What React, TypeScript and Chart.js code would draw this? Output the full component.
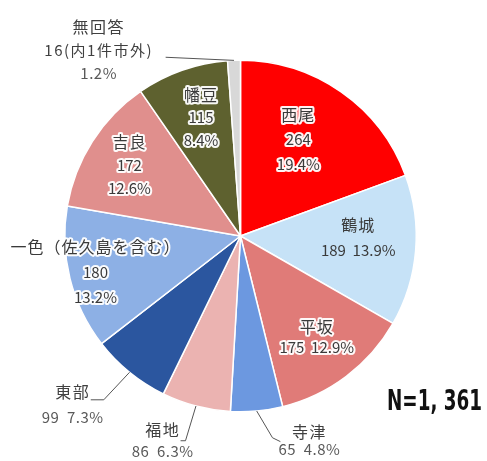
import { useEffect, useRef } from "react";
import { Chart, registerables } from "chart.js";

Chart.register(...registerables);

// ---- data ----
const categories = ["西尾", "鶴城", "平坂", "寺津", "福地", "東部", "一色（佐久島を含む）", "吉良", "幡豆", "無回答"];
const counts = [264, 189, 175, 65, 86, 99, 180, 172, 115, 16];
const countLabels = ["264", "189", "175", "65", "86", "99", "180", "172", "115", "16(内1件市外)"];
const percentLabels = ["19.4%", "13.9%", "12.9%", "4.8%", "6.3%", "7.3%", "13.2%", "12.6%", "8.4%", "1.2%"];
const sliceColors = ["#FF0000", "#C6E2F7", "#E07B78", "#6C98E0", "#EBB3B1", "#2B569F", "#8DB0E5", "#E08F8D", "#5E612F", "#D8D8D8"];
const totalLabel = "N=1, 361";

// ---- label layout (style only; positions relative to pie geometry, in radius units) ----
type Layout = {
  mode: "in" | "out";
  rows: 2 | 3;
  rf?: number;
  da?: number;
  tx?: number;
  ty?: number;
  leader?: number[][];
  lh: number;
  halo?: boolean;
};
const labelLayout: Layout[] = [
  { mode: "in", rows: 3, rf: 0.64, da: -4, lh: 25, halo: true },
  { mode: "in", rows: 2, rf: 0.67, da: -4, lh: 25, halo: false },
  { mode: "in", rows: 2, rf: 0.72, da: 0, lh: 21, halo: true },
  { mode: "out", rows: 2, tx: 0.392, ty: 1.165, lh: 18, leader: [[0.182, 1.148], [0.227, 1.17]] },
  { mode: "out", rows: 2, tx: -0.443, ty: 1.165, lh: 22, leader: [[-0.313, 1.165], [-0.341, 1.165]] },
  { mode: "out", rows: 2, tx: -0.955, ty: 0.96, lh: 26, leader: [[-0.778, 0.932], [-0.852, 0.932]] },
  { mode: "in", rows: 3, rf: 0.85, da: 0, lh: 25, halo: true },
  { mode: "in", rows: 3, rf: 0.75, da: 0, lh: 23.5, halo: true },
  { mode: "in", rows: 3, rf: 0.71, da: 1, lh: 23, halo: true },
  { mode: "out", rows: 3, tx: -0.807, ty: -1.057, lh: 23.5, leader: [[-0.426, -1.017]] },
];

const JP = "'Noto Sans CJK JP', 'Noto Sans', sans-serif";

const labelPlugin = {
  id: "sliceLabels",
  afterDatasetsDraw(chart: any) {
    const ctx: CanvasRenderingContext2D = chart.ctx;
    const meta = chart.getDatasetMeta(0);
    ctx.save();
    meta.data.forEach((arc: any, i: number) => {
      const { x, y, startAngle, endAngle, outerRadius } = arc.getProps(
        ["x", "y", "startAngle", "endAngle", "outerRadius"],
        true
      );
      const R = outerRadius;
      const mid = (startAngle + endAngle) / 2;
      const L = labelLayout[i];
      const lines =
        L.rows === 3
          ? [categories[i], countLabels[i], percentLabels[i]]
          : [categories[i], countLabels[i] + "  " + percentLabels[i]];
      let cx: number, cy: number;
      if (L.mode === "in") {
        const a = mid + ((L.da || 0) * Math.PI) / 180;
        cx = x + R * (L.rf || 0.6) * Math.cos(a);
        cy = y + R * (L.rf || 0.6) * Math.sin(a);
      } else {
        cx = x + R * (L.tx || 0);
        cy = y + R * (L.ty || 0);
        ctx.beginPath();
        ctx.moveTo(x + R * Math.cos(mid), y + R * Math.sin(mid));
        (L.leader || []).forEach((p) => ctx.lineTo(x + R * p[0], y + R * p[1]));
        ctx.strokeStyle = "#555";
        ctx.lineWidth = 1;
        ctx.stroke();
      }
      ctx.textAlign = "center";
      ctx.textBaseline = "middle";
      const n = lines.length;
      lines.forEach((t, k) => {
        const ly = cy + (k - (n - 1) / 2) * L.lh;
        const isName = k === 0;
        if (L.mode === "in") {
          ctx.font = (isName ? "16px " : "15px ") + JP;
          (ctx as any).letterSpacing = isName ? "1px" : "0px";
          if (L.halo) {
            ctx.lineJoin = "round";
            ctx.strokeStyle = "rgba(255,255,255,0.95)";
            ctx.lineWidth = 4;
            ctx.strokeText(t, cx, ly);
          }
          ctx.fillStyle = "#3a3a3a";
          ctx.fillText(t, cx, ly);
        } else {
          ctx.font = (isName ? "16px " : "15px ") + JP;
          (ctx as any).letterSpacing = isName || t.indexOf("内") >= 0 ? "1.5px" : "0.5px";
          ctx.fillStyle = isName || t.indexOf("内") >= 0 ? "#404040" : "#595959";
          ctx.fillText(t, cx, ly);
        }
      });
    });
    (ctx as any).letterSpacing = "0px";

    // N annotation
    ctx.font = "bold 28px 'Liberation Sans Narrow', 'DejaVu Sans Condensed', sans-serif";
    ctx.textAlign = "left";
    ctx.textBaseline = "alphabetic";
    const w = ctx.measureText(totalLabel).width;
    const targetW = 95;
    ctx.translate(387, 410);
    ctx.scale(targetW / w, 1);
    ctx.fillStyle = "#111";
    ctx.fillText(totalLabel, 0, 0);
    ctx.restore();
  },
};

export default function App() {
  const ref = useRef<HTMLCanvasElement | null>(null);
  useEffect(() => {
    if (!ref.current) return;
    const chart = new Chart(ref.current, {
      type: "pie",
      data: {
        labels: categories,
        datasets: [
          {
            data: counts,
            backgroundColor: sliceColors,
            borderColor: "#ffffff",
            borderWidth: 1.5,
          },
        ],
      },
      options: {
        responsive: false,
        animation: false,
        layout: { padding: { left: 64, top: 59, right: 70, bottom: 48 } },
        plugins: {
          legend: { display: false },
          tooltip: { enabled: false },
        },
      },
      plugins: [labelPlugin],
    });
    return () => chart.destroy();
  }, []);
  return (
    <div style={{ position: "fixed", left: 0, top: 0, width: 487, height: 461, background: "#fff" }}>
      <canvas ref={ref} width={487} height={461} style={{ width: 487, height: 461, display: "block" }} />
    </div>
  );
}
